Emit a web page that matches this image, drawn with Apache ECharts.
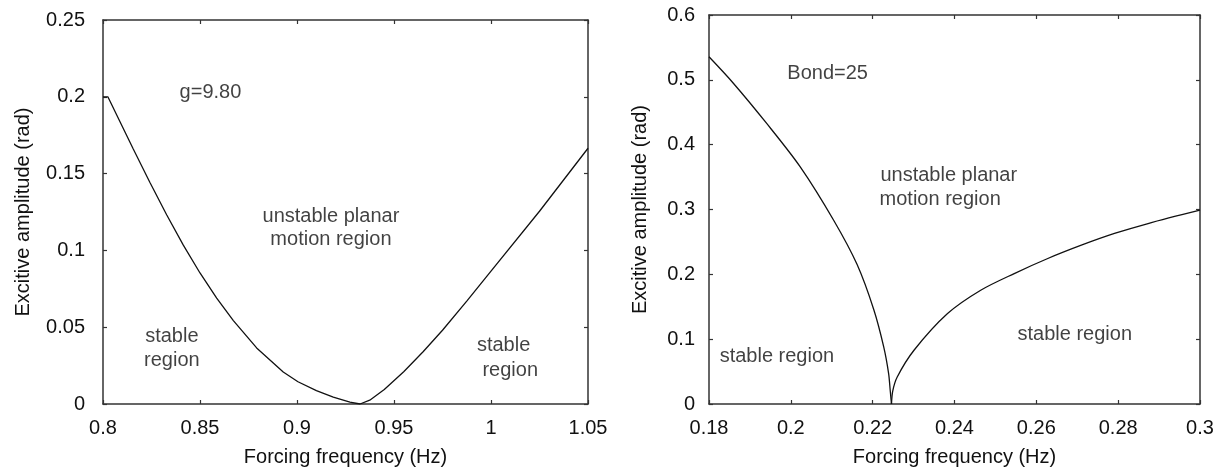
<!DOCTYPE html>
<html lang="en">
<head>
<meta charset="UTF-8">
<title>Excitive amplitude vs forcing frequency</title>
<script src="https://cdn.jsdelivr.net/npm/echarts@6/dist/echarts.min.js"></script>
<style>
    html, body { margin: 0; padding: 0; background: #fff; }
    #chart { width: 1226px; height: 472px; }
</style>
</head>
<body>
<div id="chart"></div>
<script>
    // left panel (g=9.80): stability boundary
    const g_freq = [0.8, 0.8025, 0.8156, 0.8242, 0.8328, 0.8414, 0.85, 0.8586, 0.8672, 0.8792, 0.8929,
        0.9005, 0.910, 0.9187, 0.9273, 0.9325, 0.9375, 0.945, 0.955, 0.965, 0.975, 0.9875, 1.0, 1.025, 1.05];
    const g_amp = [0.2, 0.2, 0.166, 0.1442, 0.1232, 0.1034, 0.0853, 0.069, 0.0543, 0.0365, 0.0208,
        0.0145, 0.0087, 0.0045, 0.0012, 0.0, 0.0025, 0.0095, 0.021, 0.034, 0.048, 0.067, 0.0865, 0.1255, 0.1665];

    // right panel (Bond=25): two branches meeting in a cusp
    const bond_freq_lo = [0.18, 0.186, 0.1941, 0.2023, 0.2105, 0.2162, 0.2203, 0.2227, 0.2239, 0.2243, 0.2246];
    const bond_amp_lo = [0.5355, 0.4944, 0.4327, 0.3657, 0.283, 0.215, 0.145, 0.088, 0.0469, 0.02, 0];
    const bond_freq_hi = [0.2246, 0.2249, 0.226, 0.2301, 0.2383, 0.2464, 0.2546, 0.2628, 0.271, 0.2791, 0.2873, 0.3];
    const bond_amp_hi = [0, 0.02, 0.0417, 0.0829, 0.1395, 0.1755, 0.2012, 0.2244, 0.2449, 0.263, 0.2784, 0.2989];

    // region labels: [freq, amp, text] (text centre)
    const g_notes = [
        [0.8554, 0.2025, 'g=9.80'],
        [0.9175, 0.1224, 'unstable planar'],
        [0.9175, 0.1068, 'motion region'],
        [0.8355, 0.0438, 'stable'],
        [0.8355, 0.0286, 'region'],
        [1.0065, 0.0384, 'stable'],
        [1.0099, 0.0221, 'region']
    ];
    const bond_notes = [
        [0.209, 0.5099, 'Bond=25'],
        [0.2386, 0.3529, 'unstable planar'],
        [0.2365, 0.3154, 'motion region'],
        [0.1966, 0.0736, 'stable region'],
        [0.2694, 0.1076, 'stable region']
    ];

    const font = 'Liberation Sans, Arial, sans-serif';
    const ink = '#111';
    const frame = '#333';

    function zip(xs, ys) {
        return xs.map((x, i) => [x, ys[i]]);
    }

    function make_axis(grid, pos, min, max, step, labels, margin, name, name_gap) {
        return {
            type: 'value',
            gridIndex: grid,
            position: pos,
            min: min,
            max: max,
            interval: step,
            name: name || '',
            nameLocation: 'middle',
            nameGap: name_gap || 0,
            nameTextStyle: {fontFamily: font, fontSize: 20, color: ink},
            axisLine: {show: true, onZero: false, lineStyle: {color: frame, width: 1.5}},
            axisTick: {show: true, inside: true, length: 4, lineStyle: {color: frame, width: 1.2}},
            splitLine: {show: false},
            axisLabel: {
                show: labels,
                margin: margin,
                showMinLabel: true,
                showMaxLabel: true,
                fontFamily: font,
                fontSize: 20,
                color: ink
            }
        };
    }

    function note_series(notes, grid) {
        return {
            type: 'scatter',
            xAxisIndex: grid * 2,
            yAxisIndex: grid * 2,
            symbolSize: 0,
            silent: true,
            data: notes.map((n) => ({value: [n[0], n[1]], name: n[2]})),
            label: {
                show: true,
                position: 'inside',
                formatter: '{b}',
                fontFamily: font,
                fontSize: 20,
                color: ink
            }
        };
    }

    function curve_series(pts, grid, smooth) {
        return {
            type: 'line',
            xAxisIndex: grid * 2,
            yAxisIndex: grid * 2,
            data: pts,
            showSymbol: false,
            smooth: smooth,
            silent: true,
            lineStyle: {color: '#111', width: 1.3}
        };
    }

    const chart = echarts.init(document.getElementById('chart'));
    chart.setOption({
        animation: false,
        backgroundColor: '#fff',
        grid: [
            {left: 103, top: 20, width: 485, height: 384, outerBoundsMode: 'none'},
            {left: 709, top: 15, width: 491, height: 389, outerBoundsMode: 'none'}
        ],
        xAxis: [
            make_axis(0, 'bottom', 0.8, 1.05, 0.05, true, 14, 'Forcing frequency (Hz)', 43),
            make_axis(0, 'top', 0.8, 1.05, 0.05, false, 0),
            make_axis(1, 'bottom', 0.18, 0.3, 0.02, true, 14, 'Forcing frequency (Hz)', 43),
            make_axis(1, 'top', 0.18, 0.3, 0.02, false, 0)
        ],
        yAxis: [
            make_axis(0, 'left', 0, 0.25, 0.05, true, 18, 'Excitive amplitude (rad)', 70),
            make_axis(0, 'right', 0, 0.25, 0.05, false, 0),
            make_axis(1, 'left', 0, 0.6, 0.1, true, 14, 'Excitive amplitude (rad)', 59),
            make_axis(1, 'right', 0, 0.6, 0.1, false, 0)
        ],
        series: [
            curve_series(zip(g_freq, g_amp), 0, false),
            curve_series(zip(bond_freq_lo, bond_amp_lo), 1, 0.3),
            curve_series(zip(bond_freq_hi, bond_amp_hi), 1, 0.3),
            note_series(g_notes, 0),
            note_series(bond_notes, 1)
        ]
    });
</script>
</body>
</html>
